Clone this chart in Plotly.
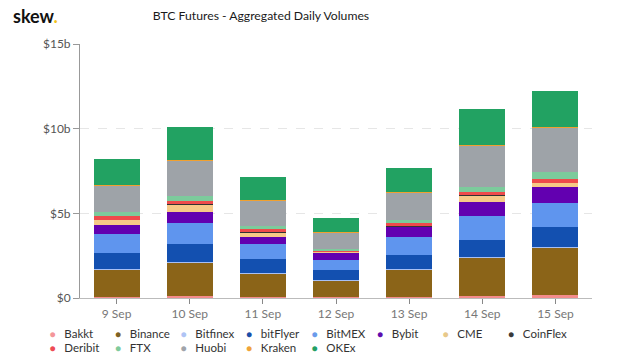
import plotly.graph_objects as go

dates = ["9 Sep", "10 Sep", "11 Sep", "12 Sep", "13 Sep", "14 Sep", "15 Sep"]

# Daily volumes, billions USD
bakkt    = [0.04, 0.10, 0.03, 0.03, 0.05, 0.09, 0.19]
binance  = [1.64, 2.00, 1.42, 1.00, 1.65, 2.30, 2.78]
bitfinex = [0.03, 0.04, 0.02, 0.02, 0.03, 0.04, 0.04]
bitflyer = [0.92, 1.06, 0.81, 0.61, 0.80, 1.02, 1.16]
bitmex   = [1.16, 1.20, 0.89, 0.61, 1.10, 1.42, 1.46]
bybit    = [0.53, 0.69, 0.45, 0.39, 0.57, 0.79, 0.92]
cme      = [0.30, 0.43, 0.27, 0.08, 0.05, 0.41, 0.26]
coinflex = [0.01, 0.01, 0.01, 0.01, 0.01, 0.01, 0.01]
deribit  = [0.20, 0.22, 0.20, 0.05, 0.15, 0.18, 0.21]
ftx      = [0.24, 0.28, 0.18, 0.10, 0.20, 0.30, 0.41]
huobi    = [1.55, 2.08, 1.50, 0.98, 1.64, 2.42, 2.64]
kraken   = [0.03, 0.04, 0.02, 0.02, 0.02, 0.04, 0.04]
okex     = [1.54, 1.95, 1.32, 0.85, 1.38, 2.15, 2.09]

y_ticks = [0, 5, 10, 15]
y_tick_labels = ["$0", "$5b", "$10b", "$15b"]

series = [
    ("Bakkt", bakkt, "#F48C8C", "legend"),
    ("Binance", binance, "#8B6418", "legend"),
    ("Bitfinex", bitfinex, "#A8C0F4", "legend"),
    ("bitFlyer", bitflyer, "#1350B0", "legend"),
    ("BitMEX", bitmex, "#5F95EE", "legend"),
    ("Bybit", bybit, "#6200B0", "legend"),
    ("CME", cme, "#F6C987", "legend"),
    ("CoinFlex", coinflex, "#333333", "legend"),
    ("Deribit", deribit, "#EE4B4B", "legend2"),
    ("FTX", ftx, "#7CCB9C", "legend2"),
    ("Huobi", huobi, "#9EA3A8", "legend2"),
    ("Kraken", kraken, "#F0A030", "legend2"),
    ("OKEx", okex, "#22A262", "legend2"),
]

legend_colors = {
    "Bakkt": "#F4969A", "Binance": "#7E6224", "Bitfinex": "#AFC4F5",
    "bitFlyer": "#1A4FA8", "BitMEX": "#6A9BEB", "Bybit": "#5E0DAE",
    "CME": "#E8C98A", "CoinFlex": "#3A3A3A", "Deribit": "#EE4B55",
    "FTX": "#7FCB9C", "Huobi": "#A0A4AA", "Kraken": "#F0A43A", "OKEx": "#23A064",
}
last_in_row = {"CoinFlex", "OKEx"}

fig = go.Figure()
for name, vals, color, lg in series:
    fig.add_trace(go.Bar(
        x=dates, y=vals, name=name, marker=dict(color=color, line=dict(width=0)),
        legendgroup=name, showlegend=False,
    ))
for name, vals, color, lg in series:
    label = ("<span style='font-size:10px;color:%s'>\u25CF</span>&nbsp;&nbsp;&nbsp;%s"
             % (legend_colors[name], name))
    extra = dict(legendwidth=80) if name in last_in_row else {}
    fig.add_trace(go.Scatter(
        x=[None], y=[None], mode="markers", name=label, legendgroup=name,
        marker=dict(color="rgba(0,0,0,0)", size=1),
        legend=lg, showlegend=True, **extra,
    ))

font_family = "Lato, 'Open Sans', sans-serif"
legend_common = dict(
    orientation="h", xanchor="left", yanchor="top",
    entrywidth=20.5, entrywidthmode="pixels",
    font=dict(family=font_family, size=11.5, color="#333333"),
    bgcolor="rgba(0,0,0,0)", borderwidth=0, traceorder="normal",
)

fig.update_layout(
    width=640, height=357,
    margin=dict(l=80, r=48, t=44, b=59, autoexpand=False),
    paper_bgcolor="white", plot_bgcolor="white",
    barmode="stack", bargap=0.37,
    font=dict(family=font_family, color="#666666", size=12),
    title=dict(
        text="BTC Futures - Aggregated Daily Volumes",
        x=261 / 640, xanchor="center", xref="container",
        y=1 - 16 / 357, yanchor="middle", yref="container",
        font=dict(family=font_family, size=12.2, color="#1a1a1a"),
    ),
    legend=dict(x=(9.5 - 80) / 512, y=(298 - 318.5) / 254, **legend_common),
    legend2=dict(x=(9.5 - 80) / 512, y=(298 - 332.5) / 254, **legend_common),
    xaxis=dict(
        type="category", showline=True, linecolor="#bbbbbb", linewidth=1,
        ticks="outside", ticklen=5, tickcolor="#888888",
        tickfont=dict(size=12, color="#777777"), showgrid=False,
    ),
    yaxis=dict(
        range=[0, 15], tickvals=y_ticks, ticktext=y_tick_labels,
        showline=True, linecolor="#999999", linewidth=1,
        ticks="outside", ticklen=6, tickcolor="#999999",
        tickfont=dict(size=12, color="#555555"),
        showgrid=True, gridcolor="#e6e6e6", griddash="dash", gridwidth=1,
        zeroline=False,
    ),
    showlegend=True,
)

fig.add_annotation(
    text="<b>skew</b><b><span style='color:#F2C318'>.</span></b>",
    xref="paper", yref="paper", x=(11 - 80) / 512, y=(298 - 16) / 254,
    xanchor="left", yanchor="middle", showarrow=False,
    font=dict(family="Lato, sans-serif", size=18, color="#111111"),
)

fig.write_html("out.html", config={"displayModeBar": False},
               post_script="document.body.style.margin='0';")
